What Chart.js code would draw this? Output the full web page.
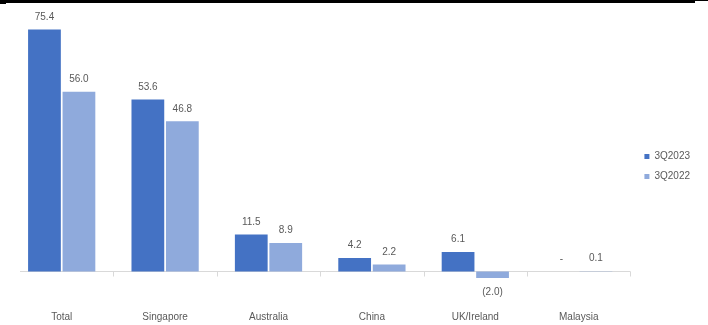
<!DOCTYPE html>
<html>
<head>
<meta charset="utf-8">
<script src="https://cdn.jsdelivr.net/npm/chart.js@4.4.0/dist/chart.umd.min.js"></script>
<style>
  html, body { margin: 0; padding: 0; background: #fff; }
  #wrap { position: relative; width: 708px; height: 325px; }
  #topRule { position: absolute; left: 0; top: 0; width: 695px; height: 3px; background: #000; }
  #topRule2 { position: absolute; left: 0; top: 0; width: 708px; height: 1px; background: #000; }
  #topRule3 { position: absolute; left: 0; top: 0; width: 6px; height: 4px; background: #000; }
</style>
</head>
<body>
<div id="wrap">
  <canvas id="regionChart" width="708" height="325"></canvas>
  <div id="topRule"></div><div id="topRule2"></div><div id="topRule3"></div>
</div>
<script>
// Datos del gráfico
const categories = ['Total', 'Singapore', 'Australia', 'China', 'UK/Ireland', 'Malaysia'];
const seriesNames = ['3Q2023', '3Q2022'];
const values2023 = [75.4, 53.6, 11.5, 4.2, 6.1, 0];
const values2022 = [56.0, 46.8, 8.9, 2.2, -2.0, 0.1];
const seriesColors = ['#4472C4', '#8FAADC'];

const labelFont = { family: "'Liberation Sans', Arial, sans-serif", size: 10 };
const textColor = '#595959';

// formato de etiquetas: 0 -> "-", negativos entre paréntesis
function formatValue(v) {
    if (v === 0) return '-';
    if (v < 0) return '(' + Math.abs(v).toFixed(1) + ')';
    return v.toFixed(1);
}

// línea del eje en cero con marcas entre categorías
const zeroAxisPlugin = {
    id: 'zeroAxis',
    beforeDatasetsDraw(chart) {
        const xs = chart.scales.x, ys = chart.scales.y, c = chart.ctx;
        const y0 = Math.round(ys.getPixelForValue(0)) + 0.5;
        c.save();
        c.strokeStyle = '#d9d9d9';
        c.lineWidth = 1;
        c.beginPath();
        c.moveTo(xs.left + 10, y0);
        c.lineTo(xs.right, y0);
        for (let i = 1; i <= categories.length; i++) {
            const bx = Math.round(xs.getPixelForValue(i - 0.5)) + 0.5;
            c.moveTo(bx, y0);
            c.lineTo(bx, y0 + 5);
        }
        c.stroke();
        c.restore();
    }
};

// etiquetas de valores encima / debajo de cada barra
const valueLabelPlugin = {
    id: 'valueLabels',
    afterDatasetsDraw(chart) {
        const c = chart.ctx;
        c.save();
        c.font = `${labelFont.size}px ${labelFont.family}`;
        c.fillStyle = textColor;
        c.textAlign = 'center';
        c.textBaseline = 'middle';
        chart.data.datasets.forEach((ds, di) => {
            const meta = chart.getDatasetMeta(di);
            meta.data.forEach((bar, i) => {
                const v = ds.data[i];
                const y = v < 0 ? bar.y + 14 : bar.y - 12.5;
                c.fillText(formatValue(v), bar.x, y);
            });
        });
        c.restore();
    }
};

const chart = new Chart(document.getElementById('regionChart').getContext('2d'), {
    type: 'bar',
    data: {
        labels: categories,
        datasets: [
            { label: seriesNames[0], data: values2023, backgroundColor: seriesColors[0] },
            { label: seriesNames[1], data: values2022, backgroundColor: seriesColors[1] }
        ]
    },
    options: {
        responsive: false,
        animation: false,
        layout: { padding: { top: 8, left: 10, right: 8, bottom: 0 } },
        datasets: {
            bar: { categoryPercentage: 0.667, barPercentage: 0.95 }
        },
        scales: {
            x: {
                grid: { display: false },
                border: { display: false },
                ticks: { color: textColor, font: labelFont, padding: 2, maxRotation: 0 }
            },
            y: {
                display: false,
                min: -9.2,
                max: 82.1
            },
            // eje vacío a la derecha, sólo separa la leyenda del área del gráfico
            gap: {
                type: 'linear',
                position: 'right',
                grid: { display: false },
                border: { display: false },
                ticks: { display: false },
                afterFit(scale) { scale.width = 4; }
            }
        },
        plugins: {
            legend: {
                position: 'right',
                labels: {
                    boxWidth: 5,
                    boxHeight: 5,
                    padding: 10,
                    color: textColor,
                    font: labelFont
                }
            },
            tooltip: { enabled: false }
        }
    },
    plugins: [zeroAxisPlugin, valueLabelPlugin]
});
</script>
</body>
</html>
